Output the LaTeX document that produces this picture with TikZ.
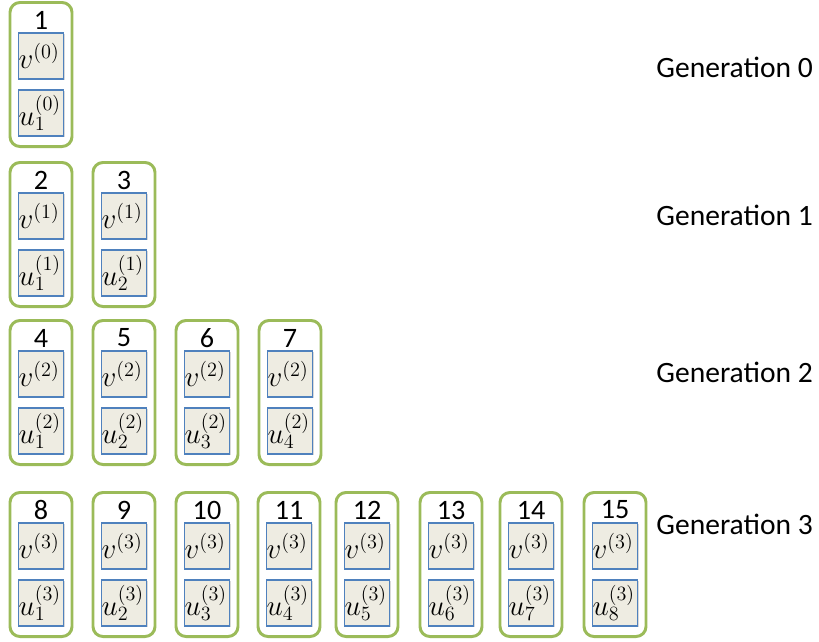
\documentclass[tikz,border=0pt]{standalone}
\usepackage[no-math]{fontspec}
\setmainfont{Carlito}
\usetikzlibrary{shadows}
\definecolor{cellgreen}{RGB}{155,187,89}
\definecolor{slotblue}{RGB}{79,129,189}
\definecolor{slotfill}{RGB}{238,236,226}
\begin{document}
\begin{tikzpicture}[
    x=0.025cm, y=-0.025cm,
    cell/.style={draw=cellgreen, line width=2.1pt, rounded corners=0.25cm,
        minimum width=1.55cm, minimum height=3.6cm, inner sep=0pt},
    num/.style={font=\fontsize{20}{24}\selectfont, inner sep=0pt},
    slot/.style={draw=slotblue, line width=0.8pt, fill=slotfill,
        minimum height=1.15cm, text width=1.12cm, inner sep=0.3pt, align=left,
        font=\fontsize{20}{24}\selectfont,
        drop shadow={opacity=0.3, shadow xshift=0.8pt, shadow yshift=-1pt}},
    gen/.style={font=\fontsize{21}{25}\selectfont, anchor=base east, inner sep=0pt},
]
    \useasboundingbox (0,0) rectangle (819,641);

    % Cells: number / left / top / generation / index
    \foreach \n/\x/\y/\g/\k in {
        1/9/2/0/1,
        2/9/162/1/1, 3/92/162/1/2,
        4/9/320/2/1, 5/92/320/2/2, 6/175/320/2/3, 7/258/320/2/4,
        8/9/492/3/1, 9/92/492/3/2, 10/175/492/3/3, 11/257/492/3/4,
        12/335/492/3/5, 13/419/492/3/6, 14/499/492/3/7, 15/583/492/3/8}
    {
        \node[cell] (c\n) at (\x+32,\y+72.5) {};
        \node[num] (n\n) at (\x+32,\y+18) {\n};
        \node[slot] (v\n) at (\x+32,\y+54) {$v^{(\g)}$};
        \node[slot] (u\n) at (\x+32,\y+111) {$u_{\k}^{(\g)}$};
    }

    % Labels
    \node[gen] (g0) at (813,77) {Generation 0};
    \node[gen] (g1) at (813,225) {Generation 1};
    \node[gen] (g2) at (813,382) {Generation 2};
    \node[gen] (g3) at (813,534) {Generation 3};
\end{tikzpicture}
\end{document}
